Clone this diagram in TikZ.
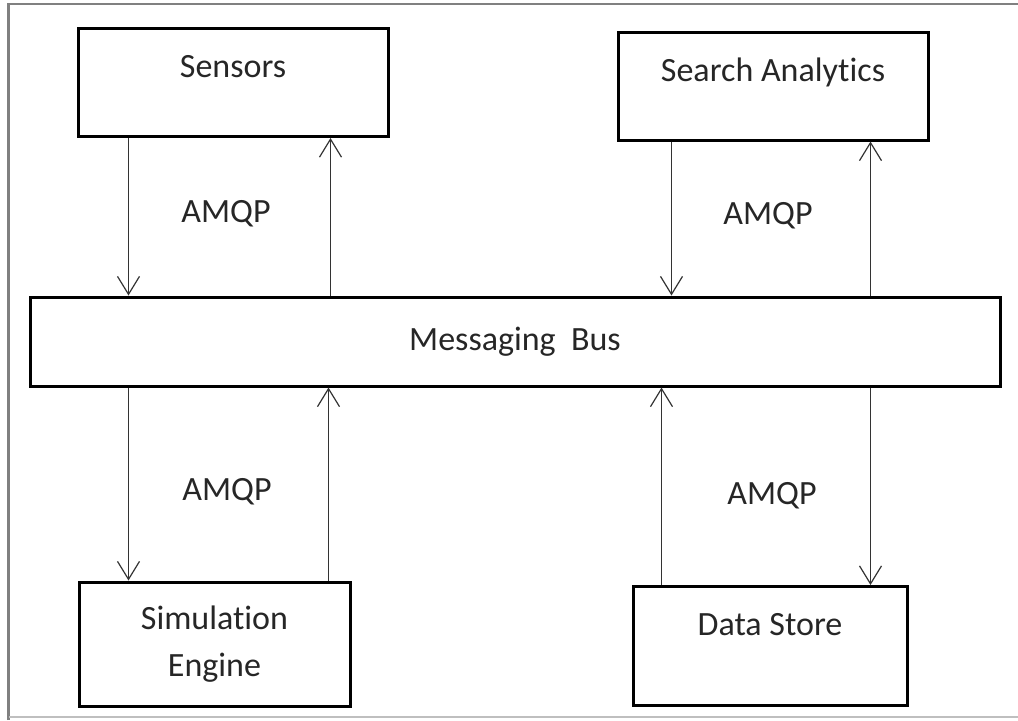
\documentclass[tikz,border=0pt]{standalone}
\usepackage{fontspec}
\setmainfont{Carlito}[Ligatures=NoCommon]
\usetikzlibrary{arrows.meta}

\begin{document}
\begin{tikzpicture}[x=0.5pt, y=-0.5pt,
    every node/.style = {font=\fontsize{17}{23.5}\selectfont, text=black!85},
    main/.style = {draw=black, line width=1.5pt, inner sep=0pt, align=center},
    toptext/.style = {text height=24.5pt, text depth=#1},
    link/.style = {draw=black!80, line width=0.6pt, -{Straight Barb[length=9pt, width=11pt]}}]
    \useasboundingbox (0,0) rectangle (1018,720);
    % frame
    \draw[gray, line width=1.3pt] (8.5,720) -- (8.5,4) -- (1018,4);
    \draw[black!25, line width=0.8pt] (8.5,717) -- (1018,717);

    \node[main, minimum width=155pt, toptext=29.5pt] (sensors) at (233,82.5) {Sensors};
    \node[main, minimum width=155pt, toptext=29.5pt] (search) at (773,86) {Search Analytics};
    \node[main, minimum width=485pt, minimum height=44.5pt] (bus) at (515,341.5) {Messaging\ \ Bus};
    \node[main, minimum width=135.5pt, minimum height=62pt] (sim) at (214.5,644) {Simulation\\Engine};
    \node[main, minimum width=137pt, toptext=35pt] (store) at (770,646) {Data Store};

    \draw[link] ([xshift=26pt]sensors.south west) -- ([xshift=26pt]sensors.south west |- bus.north);
    \draw[link] ([xshift=-29.5pt]sensors.south east |- bus.north) -- ([xshift=-29.5pt]sensors.south east);
    \draw[link] ([xshift=27.5pt]search.south west) -- ([xshift=27.5pt]search.south west |- bus.north);
    \draw[link] ([xshift=-29.5pt]search.south east |- bus.north) -- ([xshift=-29.5pt]search.south east);
    \draw[link] ([xshift=25.5pt]sim.north west |- bus.south) -- ([xshift=25.5pt]sim.north west);
    \draw[link] ([xshift=-11.5pt]sim.north east) -- ([xshift=-11.5pt]sim.north east |- bus.south);
    \draw[link] ([xshift=15pt]store.north west) -- ([xshift=15pt]store.north west |- bus.south);
    \draw[link] ([xshift=-19pt]store.north east |- bus.south) -- ([xshift=-19pt]store.north east);

    \node (amqp1) at (226,214) {AMQP};
    \node (amqp2) at (768,216) {AMQP};
    \node (amqp3) at (227,492) {AMQP};
    \node (amqp4) at (772,496) {AMQP};
\end{tikzpicture}
\end{document}
